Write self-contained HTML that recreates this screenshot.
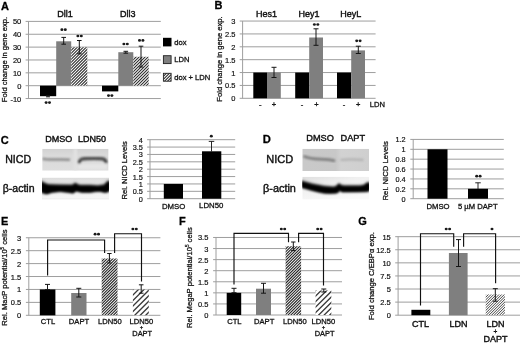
<!DOCTYPE html>
<html><head><meta charset="utf-8"><title>Figure</title>
<style>
html,body{margin:0;padding:0;background:#fff;}
body{width:520px;height:344px;overflow:hidden;font-family:"Liberation Sans",sans-serif;}
svg{display:block;will-change:transform;}
</style></head><body>
<svg width="520" height="344" viewBox="0 0 520 344" font-family='"Liberation Sans", sans-serif'>
<defs>
<pattern id="h1" width="2.0" height="2.0" patternUnits="userSpaceOnUse" patternTransform="rotate(-45)">
<rect width="2" height="2" fill="#fff"/><rect y="0" width="2" height="1.0" fill="#2a2a2a"/></pattern>
<pattern id="h2" width="1.55" height="1.55" patternUnits="userSpaceOnUse" patternTransform="rotate(-45)">
<rect width="1.55" height="1.55" fill="#fff"/><rect y="0" width="1.55" height="0.75" fill="#333"/></pattern>
<pattern id="h3" width="3.2" height="3.2" patternUnits="userSpaceOnUse" patternTransform="rotate(-45)">
<rect width="3.2" height="3.2" fill="#fff"/><rect y="0" width="3.2" height="1.1" fill="#444"/></pattern>
<filter id="b1" x="-20%" y="-50%" width="140%" height="200%"><feGaussianBlur stdDeviation="1.1"/></filter>
<filter id="b2" x="-20%" y="-50%" width="140%" height="200%"><feGaussianBlur stdDeviation="0.85"/></filter>
<filter id="b3" x="-20%" y="-50%" width="140%" height="200%"><feGaussianBlur stdDeviation="1.5"/></filter>
<linearGradient id="g1" x1="0" y1="0" x2="0" y2="1"><stop offset="0" stop-color="#d2d2d2"/><stop offset="0.3" stop-color="#dadada"/><stop offset="1" stop-color="#dedede"/></linearGradient>
<linearGradient id="g2" x1="0" y1="0" x2="1" y2="0"><stop offset="0" stop-color="#c9c9c9"/><stop offset="0.5" stop-color="#c8c8c8"/><stop offset="0.58" stop-color="#d2d2d2"/><stop offset="1" stop-color="#cfcfcf"/></linearGradient>
<linearGradient id="g3" x1="0" y1="0" x2="0" y2="1"><stop offset="0" stop-color="#dcdcdc"/><stop offset="0.25" stop-color="#e6e6e6"/><stop offset="0.7" stop-color="#f2f2f2"/><stop offset="0.93" stop-color="#f4f4f4"/><stop offset="1" stop-color="#e2e2e2"/></linearGradient>
<linearGradient id="g4" x1="0" y1="0" x2="0.6" y2="1"><stop offset="0" stop-color="#dedede"/><stop offset="0.4" stop-color="#f0f0f0"/><stop offset="1" stop-color="#fafafa"/></linearGradient>
<clipPath id="cpC1"><rect x="42.2" y="148.8" width="66.4" height="21.9"/></clipPath>
<clipPath id="cpC2"><rect x="42" y="177.6" width="67" height="22"/></clipPath>
<clipPath id="cpD1"><rect x="302.3" y="148.8" width="66.7" height="22.2"/></clipPath>
<clipPath id="cpD2"><rect x="302.3" y="176.7" width="66.7" height="22.9"/></clipPath>
<filter id="hb" x="-5%" y="-5%" width="110%" height="110%"><feGaussianBlur stdDeviation="0.7"/></filter>
</defs>
<rect width="520" height="344" fill="#fff"/>
<text x="0.9" y="9.7" font-size="11" text-anchor="start" font-weight="bold" fill="#000" stroke="#000" stroke-width="0.28" >A</text>
<line x1="25.6" y1="21.400000000000006" x2="160.8" y2="21.400000000000006" stroke="#9e9e9e" stroke-width="1"/>
<line x1="25.6" y1="34.260000000000005" x2="160.8" y2="34.260000000000005" stroke="#9e9e9e" stroke-width="1"/>
<line x1="25.6" y1="47.120000000000005" x2="160.8" y2="47.120000000000005" stroke="#9e9e9e" stroke-width="1"/>
<line x1="25.6" y1="59.980000000000004" x2="160.8" y2="59.980000000000004" stroke="#9e9e9e" stroke-width="1"/>
<line x1="25.6" y1="72.84" x2="160.8" y2="72.84" stroke="#9e9e9e" stroke-width="1"/>
<line x1="25.6" y1="85.7" x2="160.8" y2="85.7" stroke="#9e9e9e" stroke-width="1"/>
<line x1="25.6" y1="98.56" x2="160.8" y2="98.56" stroke="#9e9e9e" stroke-width="1"/>
<line x1="28.5" y1="21.400000000000006" x2="28.5" y2="98.56" stroke="#9e9e9e" stroke-width="1"/>
<text x="21.3" y="24.400000000000006" font-size="7.5" text-anchor="end" font-weight="normal" fill="#111" stroke="#111" stroke-width="0.18" >50</text>
<text x="21.3" y="37.260000000000005" font-size="7.5" text-anchor="end" font-weight="normal" fill="#111" stroke="#111" stroke-width="0.18" >40</text>
<text x="21.3" y="50.120000000000005" font-size="7.5" text-anchor="end" font-weight="normal" fill="#111" stroke="#111" stroke-width="0.18" >30</text>
<text x="21.3" y="62.980000000000004" font-size="7.5" text-anchor="end" font-weight="normal" fill="#111" stroke="#111" stroke-width="0.18" >20</text>
<text x="21.3" y="75.84" font-size="7.5" text-anchor="end" font-weight="normal" fill="#111" stroke="#111" stroke-width="0.18" >10</text>
<text x="21.3" y="88.7" font-size="7.5" text-anchor="end" font-weight="normal" fill="#111" stroke="#111" stroke-width="0.18" >0</text>
<text x="21.3" y="101.56" font-size="7.5" text-anchor="end" font-weight="normal" fill="#111" stroke="#111" stroke-width="0.18" >-10</text>
<text transform="translate(7.2,59.5) rotate(-90)" font-size="7.6" text-anchor="middle" fill="#111" stroke="#111" stroke-width="0.28">Fold change in gene exp.</text>
<text x="65" y="17.2" font-size="9" text-anchor="middle" font-weight="normal" fill="#111" stroke="#111" stroke-width="0.4" >Dll1</text>
<text x="127.8" y="17.2" font-size="9" text-anchor="middle" font-weight="normal" fill="#111" stroke="#111" stroke-width="0.4" >Dll3</text>
<rect x="40" y="85.7" width="16.20" height="10.50" fill="#000"/>
<rect x="56.2" y="41.3" width="15.00" height="44.40" fill="#7f7f7f"/>
<clipPath id="hc1"><rect x="71.2" y="47.3" width="16.10" height="38.40"/></clipPath>
<rect x="71.2" y="47.3" width="16.10" height="38.40" fill="#fff"/>
<g clip-path="url(#hc1)"><path d="M70.20,48.30L88.30,30.20M70.20,51.30L88.30,33.20M70.20,54.30L88.30,36.20M70.20,57.30L88.30,39.20M70.20,60.30L88.30,42.20M70.20,63.30L88.30,45.20M70.20,66.30L88.30,48.20M70.20,69.30L88.30,51.20M70.20,72.30L88.30,54.20M70.20,75.30L88.30,57.20M70.20,78.30L88.30,60.20M70.20,81.30L88.30,63.20M70.20,84.30L88.30,66.20M70.20,87.30L88.30,69.20M70.20,90.30L88.30,72.20M70.20,93.30L88.30,75.20M70.20,96.30L88.30,78.20M70.20,99.30L88.30,81.20M70.20,102.30L88.30,84.20M70.20,105.30L88.30,87.20" stroke="#2a2a2a" stroke-width="1.05" fill="none"/></g>
<path d="M63.7,37.4V44.2M61.400000000000006,37.4H66.0M61.400000000000006,44.2H66.0" stroke="#151515" stroke-width="1.0" fill="none"/>
<path d="M79.3,40.5V53.8M77.0,40.5H81.6M77.0,53.8H81.6" stroke="#151515" stroke-width="1.0" fill="none"/>
<path d="M48,95.6V96.8M46.0,95.6H50.0M46.0,96.8H50.0" stroke="#151515" stroke-width="1.0" fill="none"/>
<ellipse cx="61.9" cy="29.7" rx="1.5" ry="1.35" fill="#1a1a1a"/>
<ellipse cx="65.3" cy="29.7" rx="1.5" ry="1.35" fill="#1a1a1a"/>
<ellipse cx="77.89999999999999" cy="36" rx="1.5" ry="1.35" fill="#1a1a1a"/>
<ellipse cx="81.3" cy="36" rx="1.5" ry="1.35" fill="#1a1a1a"/>
<ellipse cx="46.099999999999994" cy="102.6" rx="1.5" ry="1.35" fill="#1a1a1a"/>
<ellipse cx="49.5" cy="102.6" rx="1.5" ry="1.35" fill="#1a1a1a"/>
<rect x="102" y="85.7" width="16.30" height="5.70" fill="#000"/>
<rect x="118.3" y="52.2" width="15.00" height="33.50" fill="#7f7f7f"/>
<clipPath id="hc2"><rect x="133.3" y="56.8" width="15.40" height="28.90"/></clipPath>
<rect x="133.3" y="56.8" width="15.40" height="28.90" fill="#fff"/>
<g clip-path="url(#hc2)"><path d="M132.30,57.80L149.70,40.40M132.30,60.80L149.70,43.40M132.30,63.80L149.70,46.40M132.30,66.80L149.70,49.40M132.30,69.80L149.70,52.40M132.30,72.80L149.70,55.40M132.30,75.80L149.70,58.40M132.30,78.80L149.70,61.40M132.30,81.80L149.70,64.40M132.30,84.80L149.70,67.40M132.30,87.80L149.70,70.40M132.30,90.80L149.70,73.40M132.30,93.80L149.70,76.40M132.30,96.80L149.70,79.40M132.30,99.80L149.70,82.40M132.30,102.80L149.70,85.40" stroke="#2a2a2a" stroke-width="1.05" fill="none"/></g>
<path d="M125.8,51.3V53.2M123.5,51.3H128.1M123.5,53.2H128.1" stroke="#151515" stroke-width="1.0" fill="none"/>
<path d="M141,46.2V67M138.7,46.2H143.3M138.7,67H143.3" stroke="#151515" stroke-width="1.0" fill="none"/>
<ellipse cx="123.89999999999999" cy="44" rx="1.5" ry="1.35" fill="#1a1a1a"/>
<ellipse cx="127.3" cy="44" rx="1.5" ry="1.35" fill="#1a1a1a"/>
<ellipse cx="139.5" cy="40.4" rx="1.5" ry="1.35" fill="#1a1a1a"/>
<ellipse cx="142.89999999999998" cy="40.4" rx="1.5" ry="1.35" fill="#1a1a1a"/>
<ellipse cx="108.5" cy="95.6" rx="1.5" ry="1.35" fill="#1a1a1a"/>
<ellipse cx="111.9" cy="95.6" rx="1.5" ry="1.35" fill="#1a1a1a"/>
<rect x="163.0" y="37.8" width="8.50" height="8.60" fill="#000"/>
<rect x="163.4" y="55.7" width="7.7" height="7.9" fill="#7f7f7f" stroke="#222" stroke-width="0.9"/>
<clipPath id="hc3"><rect x="163.4" y="73.3" width="7.70" height="7.90"/></clipPath>
<rect x="163.4" y="73.3" width="7.70" height="7.90" fill="#fff"/>
<g clip-path="url(#hc3)"><path d="M162.40,74.30L172.10,64.60M162.40,77.30L172.10,67.60M162.40,80.30L172.10,70.60M162.40,83.30L172.10,73.60M162.40,86.30L172.10,76.60M162.40,89.30L172.10,79.60M162.40,92.30L172.10,82.60" stroke="#2a2a2a" stroke-width="1.05" fill="none"/></g>
<rect x="163.4" y="73.3" width="7.7" height="7.9" fill="none" stroke="#222" stroke-width="0.9"/>
<text x="174.2" y="44.5" font-size="7.6" text-anchor="start" font-weight="normal" fill="#111" stroke="#111" stroke-width="0.3" >dox</text>
<text x="174.2" y="61.9" font-size="7.6" text-anchor="start" font-weight="normal" fill="#111" stroke="#111" stroke-width="0.3" >LDN</text>
<text x="174.2" y="80.1" font-size="7.6" text-anchor="start" font-weight="normal" fill="#111" stroke="#111" stroke-width="0.3" >dox + LDN</text>
<text x="214.5" y="9.3" font-size="11" text-anchor="start" font-weight="bold" fill="#000" stroke="#000" stroke-width="0.28" >B</text>
<line x1="239.7" y1="21.049999999999997" x2="375.6" y2="21.049999999999997" stroke="#9e9e9e" stroke-width="1"/>
<line x1="239.7" y1="33.925" x2="375.6" y2="33.925" stroke="#9e9e9e" stroke-width="1"/>
<line x1="239.7" y1="46.8" x2="375.6" y2="46.8" stroke="#9e9e9e" stroke-width="1"/>
<line x1="239.7" y1="59.675" x2="375.6" y2="59.675" stroke="#9e9e9e" stroke-width="1"/>
<line x1="239.7" y1="72.55" x2="375.6" y2="72.55" stroke="#9e9e9e" stroke-width="1"/>
<line x1="239.7" y1="85.425" x2="375.6" y2="85.425" stroke="#9e9e9e" stroke-width="1"/>
<line x1="239.7" y1="98.3" x2="375.6" y2="98.3" stroke="#9e9e9e" stroke-width="1"/>
<line x1="242.6" y1="21.049999999999997" x2="242.6" y2="98.3" stroke="#9e9e9e" stroke-width="1"/>
<text x="235.5" y="24.049999999999997" font-size="7.5" text-anchor="end" font-weight="normal" fill="#111" stroke="#111" stroke-width="0.18" >3</text>
<text x="235.5" y="36.925" font-size="7.5" text-anchor="end" font-weight="normal" fill="#111" stroke="#111" stroke-width="0.18" >2.5</text>
<text x="235.5" y="49.8" font-size="7.5" text-anchor="end" font-weight="normal" fill="#111" stroke="#111" stroke-width="0.18" >2</text>
<text x="235.5" y="62.675" font-size="7.5" text-anchor="end" font-weight="normal" fill="#111" stroke="#111" stroke-width="0.18" >1.5</text>
<text x="235.5" y="75.55" font-size="7.5" text-anchor="end" font-weight="normal" fill="#111" stroke="#111" stroke-width="0.18" >1</text>
<text x="235.5" y="88.425" font-size="7.5" text-anchor="end" font-weight="normal" fill="#111" stroke="#111" stroke-width="0.18" >0.5</text>
<text x="235.5" y="101.3" font-size="7.5" text-anchor="end" font-weight="normal" fill="#111" stroke="#111" stroke-width="0.18" >0</text>
<text transform="translate(221.8,59) rotate(-90)" font-size="7.6" text-anchor="middle" fill="#111" stroke="#111" stroke-width="0.28">Fold change in gene exp.</text>
<text x="266.6" y="17" font-size="9" text-anchor="middle" font-weight="normal" fill="#111" stroke="#111" stroke-width="0.4" >Hes1</text>
<text x="309" y="17" font-size="9" text-anchor="middle" font-weight="normal" fill="#111" stroke="#111" stroke-width="0.4" >Hey1</text>
<text x="350.7" y="17" font-size="9" text-anchor="middle" font-weight="normal" fill="#111" stroke="#111" stroke-width="0.4" >HeyL</text>
<rect x="253.3" y="72.55" width="13.70" height="25.75" fill="#000"/>
<rect x="267" y="72.55" width="13.80" height="25.75" fill="#7f7f7f"/>
<path d="M274,67.3V77.5M271.5,67.3H276.5M271.5,77.5H276.5" stroke="#151515" stroke-width="1.0" fill="none"/>
<rect x="295.2" y="72.55" width="14.00" height="25.75" fill="#000"/>
<rect x="309.2" y="37.5" width="13.80" height="60.80" fill="#7f7f7f"/>
<path d="M316,28.8V45.3M313.5,28.8H318.5M313.5,45.3H318.5" stroke="#151515" stroke-width="1.0" fill="none"/>
<ellipse cx="314.40000000000003" cy="24.5" rx="1.5" ry="1.35" fill="#1a1a1a"/>
<ellipse cx="317.8" cy="24.5" rx="1.5" ry="1.35" fill="#1a1a1a"/>
<rect x="337" y="72.55" width="14.20" height="25.75" fill="#000"/>
<rect x="351.2" y="50.4" width="13.80" height="47.90" fill="#7f7f7f"/>
<path d="M358.3,46.2V53.5M355.8,46.2H360.8M355.8,53.5H360.8" stroke="#151515" stroke-width="1.0" fill="none"/>
<ellipse cx="356.7" cy="40.8" rx="1.5" ry="1.35" fill="#1a1a1a"/>
<ellipse cx="360.09999999999997" cy="40.8" rx="1.5" ry="1.35" fill="#1a1a1a"/>
<text x="260.2" y="106.5" font-size="7.5" text-anchor="middle" font-weight="normal" fill="#111" stroke="#111" stroke-width="0.3" >-</text>
<text x="274" y="107.45" font-size="7.5" text-anchor="middle" font-weight="normal" fill="#111" stroke="#111" stroke-width="0.3" >+</text>
<text x="302" y="106.5" font-size="7.5" text-anchor="middle" font-weight="normal" fill="#111" stroke="#111" stroke-width="0.3" >-</text>
<text x="316.5" y="107.45" font-size="7.5" text-anchor="middle" font-weight="normal" fill="#111" stroke="#111" stroke-width="0.3" >+</text>
<text x="344" y="106.5" font-size="7.5" text-anchor="middle" font-weight="normal" fill="#111" stroke="#111" stroke-width="0.3" >-</text>
<text x="358.3" y="107.45" font-size="7.5" text-anchor="middle" font-weight="normal" fill="#111" stroke="#111" stroke-width="0.3" >+</text>
<text x="369.8" y="107.2" font-size="7.6" text-anchor="start" font-weight="normal" fill="#111" stroke="#111" stroke-width="0.3" >LDN</text>
<text x="0.8" y="143.5" font-size="11" text-anchor="start" font-weight="bold" fill="#000" stroke="#000" stroke-width="0.28" >C</text>
<text x="45.2" y="142.4" font-size="9" text-anchor="start" font-weight="normal" fill="#111" stroke="#111" stroke-width="0.4" >DMSO</text>
<text x="78" y="142.4" font-size="9" text-anchor="start" font-weight="normal" fill="#111" stroke="#111" stroke-width="0.4" >LDN50</text>
<text x="5.2" y="163.2" font-size="10.6" text-anchor="start" font-weight="normal" fill="#111" stroke="#111" stroke-width="0.4" >NICD</text>
<text x="2.8" y="191.6" font-size="10.5" text-anchor="start" font-weight="normal" fill="#111" stroke="#111" stroke-width="0.4" >β-actin</text>
<g clip-path="url(#cpC1)">
<rect x="42.2" y="148.8" width="66.4" height="21.9" fill="url(#g1)"/>
<rect x="73.5" y="148.8" width="3.6" height="21.9" fill="#e2e2e2" filter="url(#b1)"/>
<g filter="url(#b1)">
<path d="M78,166.5 H107" stroke="#e6e6e6" stroke-width="5" fill="none"/>
<path d="M42.5,158.6 C45,159.6 52,159.6 58,159.5 C63,159.4 67,159.5 70,159.8" stroke="#8c8c8c" stroke-width="2.4" fill="none"/>
<path d="M79.4,162.4 C79.6,159.6 81,158.6 86,158.6 C92,158.5 99,158.5 101,158.7 C104.6,158.8 105.6,159.8 106,162" stroke="#444" stroke-width="3.2" fill="none" stroke-linecap="round"/>
</g></g>
<g clip-path="url(#cpC2)">
<rect x="42" y="177.6" width="67" height="22" fill="url(#g3)"/>
<path d="M41,181.6 L44,183.4 L48,185 L60,185.4 L72,185.6 L74.5,184.2 L75.5,183.2 L76.5,184.5 L80,185.8 L90,185.8 L98,186.2 L104,185.4 L106.5,183 L108,181.6 L110,181.8 L110,190 L108,192 L105,192.6 L100,191.4 L96,191.6 L90,192.4 L82,192.4 L78,191.6 L76,191 L75,192 L73,193.2 L68,192.4 L60,191.6 L52,192.4 L47,194 L44,193.6 L41,192Z" fill="#777" filter="url(#b3)" transform="translate(0,-1.3)"/>
<path d="M41,181.6 L44,183.4 L48,185 L60,185.4 L72,185.6 L74.5,184.2 L75.5,183.2 L76.5,184.5 L80,185.8 L90,185.8 L98,186.2 L104,185.4 L106.5,183 L108,181.6 L110,181.8 L110,190 L108,192 L105,192.6 L100,191.4 L96,191.6 L90,192.4 L82,192.4 L78,191.6 L76,191 L75,192 L73,193.2 L68,192.4 L60,191.6 L52,192.4 L47,194 L44,193.6 L41,192Z" fill="#050505" stroke="#050505" stroke-width="0.6" stroke-linejoin="round" filter="url(#b2)"/>
</g>
<line x1="147.1" y1="139.7" x2="235.2" y2="139.7" stroke="#9e9e9e" stroke-width="1"/>
<line x1="147.1" y1="147.075" x2="235.2" y2="147.075" stroke="#9e9e9e" stroke-width="1"/>
<line x1="147.1" y1="154.45" x2="235.2" y2="154.45" stroke="#9e9e9e" stroke-width="1"/>
<line x1="147.1" y1="161.825" x2="235.2" y2="161.825" stroke="#9e9e9e" stroke-width="1"/>
<line x1="147.1" y1="169.2" x2="235.2" y2="169.2" stroke="#9e9e9e" stroke-width="1"/>
<line x1="147.1" y1="176.575" x2="235.2" y2="176.575" stroke="#9e9e9e" stroke-width="1"/>
<line x1="147.1" y1="183.95" x2="235.2" y2="183.95" stroke="#9e9e9e" stroke-width="1"/>
<line x1="147.1" y1="191.325" x2="235.2" y2="191.325" stroke="#9e9e9e" stroke-width="1"/>
<line x1="147.1" y1="198.7" x2="235.2" y2="198.7" stroke="#9e9e9e" stroke-width="1"/>
<line x1="150" y1="139.7" x2="150" y2="198.7" stroke="#9e9e9e" stroke-width="1"/>
<text x="142.8" y="142.7" font-size="7.3" text-anchor="end" font-weight="normal" fill="#111" stroke="#111" stroke-width="0.18" >4</text>
<text x="142.8" y="150.075" font-size="7.3" text-anchor="end" font-weight="normal" fill="#111" stroke="#111" stroke-width="0.18" >3.5</text>
<text x="142.8" y="157.45" font-size="7.3" text-anchor="end" font-weight="normal" fill="#111" stroke="#111" stroke-width="0.18" >3</text>
<text x="142.8" y="164.825" font-size="7.3" text-anchor="end" font-weight="normal" fill="#111" stroke="#111" stroke-width="0.18" >2.5</text>
<text x="142.8" y="172.2" font-size="7.3" text-anchor="end" font-weight="normal" fill="#111" stroke="#111" stroke-width="0.18" >2</text>
<text x="142.8" y="179.575" font-size="7.3" text-anchor="end" font-weight="normal" fill="#111" stroke="#111" stroke-width="0.18" >1.5</text>
<text x="142.8" y="186.95" font-size="7.3" text-anchor="end" font-weight="normal" fill="#111" stroke="#111" stroke-width="0.18" >1</text>
<text x="142.8" y="194.325" font-size="7.3" text-anchor="end" font-weight="normal" fill="#111" stroke="#111" stroke-width="0.18" >0.5</text>
<text x="142.8" y="201.7" font-size="7.3" text-anchor="end" font-weight="normal" fill="#111" stroke="#111" stroke-width="0.18" >0</text>
<text transform="translate(126.9,170.4) rotate(-90)" font-size="7.6" text-anchor="middle" fill="#111" stroke="#111" stroke-width="0.28">Rel. NICD Levels</text>
<rect x="163.8" y="183.95" width="19.20" height="14.75" fill="#000"/>
<rect x="202" y="151.3" width="19.30" height="47.40" fill="#000"/>
<path d="M211.5,141.4V151.5M208.75,141.4H214.25" stroke="#111" stroke-width="0.9" fill="none"/>
<ellipse cx="211.3" cy="136.2" rx="1.5" ry="1.35" fill="#1a1a1a"/>
<text x="173.6" y="208.5" font-size="7.8" text-anchor="middle" font-weight="normal" fill="#111" stroke="#111" stroke-width="0.3" >DMSO</text>
<text x="211.2" y="208.3" font-size="7.8" text-anchor="middle" font-weight="normal" fill="#111" stroke="#111" stroke-width="0.3" >LDN50</text>
<text x="262.8" y="143.2" font-size="11.2" text-anchor="start" font-weight="bold" fill="#000" stroke="#000" stroke-width="0.28" >D</text>
<text x="306.3" y="141.2" font-size="9.2" text-anchor="start" font-weight="normal" fill="#111" stroke="#111" stroke-width="0.4" >DMSO</text>
<text x="340.5" y="141.2" font-size="9.2" text-anchor="start" font-weight="normal" fill="#111" stroke="#111" stroke-width="0.4" >DAPT</text>
<text x="266.2" y="163.2" font-size="11" text-anchor="start" font-weight="normal" fill="#111" stroke="#111" stroke-width="0.4" >NICD</text>
<text x="263" y="191.5" font-size="10.9" text-anchor="start" font-weight="normal" fill="#111" stroke="#111" stroke-width="0.4" >β-actin</text>
<g clip-path="url(#cpD1)">
<rect x="302.3" y="148.8" width="66.7" height="22.2" fill="url(#g2)"/>
<g filter="url(#b1)">
<path d="M304.5,156.6 C308,158.2 314,159 320,159.2 C326,159.4 331,159.8 334,160.6" stroke="#7e7e7e" stroke-width="2.8" fill="none" stroke-linecap="round"/>
<path d="M340.5,159.8 C348,159.2 356,159.3 363.5,159.8" stroke="#b2b2b2" stroke-width="2.2" fill="none"/>
</g></g>
<g clip-path="url(#cpD2)">
<rect x="302.3" y="176.7" width="66.7" height="22.9" fill="url(#g4)"/>
<path d="M301,181.2 L303.3,181.9 L312.2,184.4 L324.4,186.8 L334,187.5 L337,186.2 L338.6,184.2 L339.4,183.9 L340.4,185.6 L344,186.3 L352,186.3 L360,186.3 L364,185.6 L366.5,183.6 L368.4,183 L370,183.2 L370,190 L368,191.6 L364,191.8 L356,191.9 L348,192 L342,192 L340.4,191 L339.4,190.2 L338.6,192.2 L336,193.2 L330,193.5 L324.4,193.3 L318,192 L312.2,190.6 L306,188.8 L303.3,188.1 L301,187.6Z" fill="#777" filter="url(#b3)" transform="translate(0,-1.2)"/>
<path d="M301,181.2 L303.3,181.9 L312.2,184.4 L324.4,186.8 L334,187.5 L337,186.2 L338.6,184.2 L339.4,183.9 L340.4,185.6 L344,186.3 L352,186.3 L360,186.3 L364,185.6 L366.5,183.6 L368.4,183 L370,183.2 L370,190 L368,191.6 L364,191.8 L356,191.9 L348,192 L342,192 L340.4,191 L339.4,190.2 L338.6,192.2 L336,193.2 L330,193.5 L324.4,193.3 L318,192 L312.2,190.6 L306,188.8 L303.3,188.1 L301,187.6Z" fill="#050505" stroke="#050505" stroke-width="0.6" stroke-linejoin="round" filter="url(#b2)"/>
</g>
<line x1="410.3" y1="139.42" x2="503.8" y2="139.42" stroke="#9e9e9e" stroke-width="1"/>
<line x1="410.3" y1="149.29999999999998" x2="503.8" y2="149.29999999999998" stroke="#9e9e9e" stroke-width="1"/>
<line x1="410.3" y1="159.17999999999998" x2="503.8" y2="159.17999999999998" stroke="#9e9e9e" stroke-width="1"/>
<line x1="410.3" y1="169.06" x2="503.8" y2="169.06" stroke="#9e9e9e" stroke-width="1"/>
<line x1="410.3" y1="178.94" x2="503.8" y2="178.94" stroke="#9e9e9e" stroke-width="1"/>
<line x1="410.3" y1="188.82" x2="503.8" y2="188.82" stroke="#9e9e9e" stroke-width="1"/>
<line x1="410.3" y1="198.7" x2="503.8" y2="198.7" stroke="#9e9e9e" stroke-width="1"/>
<line x1="413.2" y1="139.42" x2="413.2" y2="198.7" stroke="#9e9e9e" stroke-width="1"/>
<text x="405.6" y="142.42" font-size="7.3" text-anchor="end" font-weight="normal" fill="#111" stroke="#111" stroke-width="0.18" >1.2</text>
<text x="405.6" y="152.29999999999998" font-size="7.3" text-anchor="end" font-weight="normal" fill="#111" stroke="#111" stroke-width="0.18" >1</text>
<text x="405.6" y="162.17999999999998" font-size="7.3" text-anchor="end" font-weight="normal" fill="#111" stroke="#111" stroke-width="0.18" >0.8</text>
<text x="405.6" y="172.06" font-size="7.3" text-anchor="end" font-weight="normal" fill="#111" stroke="#111" stroke-width="0.18" >0.6</text>
<text x="405.6" y="181.94" font-size="7.3" text-anchor="end" font-weight="normal" fill="#111" stroke="#111" stroke-width="0.18" >0.4</text>
<text x="405.6" y="191.82" font-size="7.3" text-anchor="end" font-weight="normal" fill="#111" stroke="#111" stroke-width="0.18" >0.2</text>
<text x="405.6" y="201.7" font-size="7.3" text-anchor="end" font-weight="normal" fill="#111" stroke="#111" stroke-width="0.18" >0</text>
<text transform="translate(388.2,170.8) rotate(-90)" font-size="7.75" text-anchor="middle" fill="#111" stroke="#111" stroke-width="0.28">Rel. NICD Levels</text>
<rect x="427.5" y="149.29999999999998" width="20.00" height="49.40" fill="#000"/>
<rect x="468" y="188.8" width="20.00" height="9.90" fill="#000"/>
<path d="M478,182.8V189M475.25,182.8H480.75" stroke="#111" stroke-width="0.9" fill="none"/>
<ellipse cx="476.7" cy="176.2" rx="1.5" ry="1.35" fill="#1a1a1a"/>
<ellipse cx="480.09999999999997" cy="176.2" rx="1.5" ry="1.35" fill="#1a1a1a"/>
<text x="438" y="209.1" font-size="7.7" text-anchor="middle" font-weight="normal" fill="#111" stroke="#111" stroke-width="0.3" >DMSO</text>
<text x="477.8" y="209.1" font-size="7.65" text-anchor="middle" font-weight="normal" fill="#111" stroke="#111" stroke-width="0.3" >5 µM DAPT</text>
<text x="0.9" y="224.9" font-size="11" text-anchor="start" font-weight="bold" fill="#000" stroke="#000" stroke-width="0.28" >E</text>
<line x1="25.900000000000002" y1="237.75" x2="160.4" y2="237.75" stroke="#9e9e9e" stroke-width="1"/>
<line x1="25.900000000000002" y1="250.675" x2="160.4" y2="250.675" stroke="#9e9e9e" stroke-width="1"/>
<line x1="25.900000000000002" y1="263.6" x2="160.4" y2="263.6" stroke="#9e9e9e" stroke-width="1"/>
<line x1="25.900000000000002" y1="276.525" x2="160.4" y2="276.525" stroke="#9e9e9e" stroke-width="1"/>
<line x1="25.900000000000002" y1="289.45" x2="160.4" y2="289.45" stroke="#9e9e9e" stroke-width="1"/>
<line x1="25.900000000000002" y1="302.375" x2="160.4" y2="302.375" stroke="#9e9e9e" stroke-width="1"/>
<line x1="25.900000000000002" y1="315.3" x2="160.4" y2="315.3" stroke="#9e9e9e" stroke-width="1"/>
<line x1="28.8" y1="237.75" x2="28.8" y2="315.3" stroke="#9e9e9e" stroke-width="1"/>
<text x="21.2" y="240.75" font-size="7.5" text-anchor="end" font-weight="normal" fill="#111" stroke="#111" stroke-width="0.18" >3</text>
<text x="21.2" y="253.675" font-size="7.5" text-anchor="end" font-weight="normal" fill="#111" stroke="#111" stroke-width="0.18" >2.5</text>
<text x="21.2" y="266.6" font-size="7.5" text-anchor="end" font-weight="normal" fill="#111" stroke="#111" stroke-width="0.18" >2</text>
<text x="21.2" y="279.525" font-size="7.5" text-anchor="end" font-weight="normal" fill="#111" stroke="#111" stroke-width="0.18" >1.5</text>
<text x="21.2" y="292.45" font-size="7.5" text-anchor="end" font-weight="normal" fill="#111" stroke="#111" stroke-width="0.18" >1</text>
<text x="21.2" y="305.375" font-size="7.5" text-anchor="end" font-weight="normal" fill="#111" stroke="#111" stroke-width="0.18" >0.5</text>
<text x="21.2" y="318.3" font-size="7.5" text-anchor="end" font-weight="normal" fill="#111" stroke="#111" stroke-width="0.18" >0</text>
<text transform="translate(6.5,277.6) rotate(-90)" font-size="7.6" text-anchor="middle" fill="#111" stroke="#111" stroke-width="0.28">Rel. MacP potential/10<tspan font-size="4.6" dy="-2.6">5</tspan><tspan dy="2.6"> cells</tspan></text>
<rect x="39.8" y="289.45" width="15.60" height="25.85" fill="#000"/>
<path d="M47.5,284.4V289.6M45.0,284.4H50.0M45.0,289.6H50.0" stroke="#151515" stroke-width="1.0" fill="none"/>
<rect x="71.2" y="293" width="15.30" height="22.30" fill="#7f7f7f"/>
<path d="M78.8,288.3V297M76.3,288.3H81.3M76.3,297H81.3" stroke="#151515" stroke-width="1.0" fill="none"/>
<clipPath id="hc4"><rect x="101.7" y="258.5" width="15.80" height="56.80"/></clipPath>
<rect x="101.7" y="258.5" width="15.80" height="56.80" fill="#fff"/>
<g clip-path="url(#hc4)"><path d="M100.70,259.50L118.50,241.70M100.70,262.35L118.50,244.55M100.70,265.20L118.50,247.40M100.70,268.05L118.50,250.25M100.70,270.90L118.50,253.10M100.70,273.75L118.50,255.95M100.70,276.60L118.50,258.80M100.70,279.45L118.50,261.65M100.70,282.30L118.50,264.50M100.70,285.15L118.50,267.35M100.70,288.00L118.50,270.20M100.70,290.85L118.50,273.05M100.70,293.70L118.50,275.90M100.70,296.55L118.50,278.75M100.70,299.40L118.50,281.60M100.70,302.25L118.50,284.45M100.70,305.10L118.50,287.30M100.70,307.95L118.50,290.15M100.70,310.80L118.50,293.00M100.70,313.65L118.50,295.85M100.70,316.50L118.50,298.70M100.70,319.35L118.50,301.55M100.70,322.20L118.50,304.40M100.70,325.05L118.50,307.25M100.70,327.90L118.50,310.10M100.70,330.75L118.50,312.95M100.70,333.60L118.50,315.80" stroke="#262626" stroke-width="1.1" fill="none"/></g>
<path d="M109.4,253.5V263M107.2,253.5H111.60000000000001M107.2,263H111.60000000000001" stroke="#151515" stroke-width="1.0" fill="none"/>
<clipPath id="hc5"><rect x="132.9" y="289.6" width="15.90" height="25.70"/></clipPath>
<rect x="132.9" y="289.6" width="15.90" height="25.70" fill="#fff"/>
<g clip-path="url(#hc5)"><path d="M131.90,290.60L149.80,272.70M131.90,296.10L149.80,278.20M131.90,301.60L149.80,283.70M131.90,307.10L149.80,289.20M131.90,312.60L149.80,294.70M131.90,318.10L149.80,300.20M131.90,323.60L149.80,305.70M131.90,329.10L149.80,311.20M131.90,334.60L149.80,316.70" stroke="#3a3a3a" stroke-width="1.35" fill="none"/></g>
<path d="M141.2,284.8V293.2M138.89999999999998,284.8H143.5M138.89999999999998,293.2H143.5" stroke="#151515" stroke-width="1.0" fill="none"/>
<path d="M47.6,275.6V240H104.6V253" stroke="#111" stroke-width="1.15" fill="none"/>
<path d="M114.6,253V233.7H141.5V281.4" stroke="#111" stroke-width="1.15" fill="none"/>
<ellipse cx="95.1" cy="234.2" rx="1.5" ry="1.35" fill="#1a1a1a"/>
<ellipse cx="98.5" cy="234.2" rx="1.5" ry="1.35" fill="#1a1a1a"/>
<ellipse cx="132.9" cy="229" rx="1.5" ry="1.35" fill="#1a1a1a"/>
<ellipse cx="136.29999999999998" cy="229" rx="1.5" ry="1.35" fill="#1a1a1a"/>
<text x="48" y="323.5" font-size="7.6" text-anchor="middle" font-weight="normal" fill="#111" stroke="#111" stroke-width="0.3" >CTL</text>
<text x="79" y="323.5" font-size="7.6" text-anchor="middle" font-weight="normal" fill="#111" stroke="#111" stroke-width="0.3" >DAPT</text>
<text x="109.8" y="323.5" font-size="7.6" text-anchor="middle" font-weight="normal" fill="#111" stroke="#111" stroke-width="0.3" >LDN50</text>
<text x="141.3" y="323.5" font-size="7.6" text-anchor="middle" font-weight="normal" fill="#111" stroke="#111" stroke-width="0.3" >LDN50</text>
<text x="141.5" y="329.1" font-size="6" text-anchor="middle" font-weight="normal" fill="#111" stroke="#111" stroke-width="0.3" >+</text>
<text x="142.2" y="335.9" font-size="7.4" text-anchor="middle" font-weight="normal" fill="#111" stroke="#111" stroke-width="0.3" >DAPT</text>
<text x="178.9" y="224.6" font-size="11" text-anchor="start" font-weight="bold" fill="#000" stroke="#000" stroke-width="0.28" >F</text>
<line x1="213.1" y1="237.47500000000002" x2="342" y2="237.47500000000002" stroke="#9e9e9e" stroke-width="1"/>
<line x1="213.1" y1="248.55" x2="342" y2="248.55" stroke="#9e9e9e" stroke-width="1"/>
<line x1="213.1" y1="259.625" x2="342" y2="259.625" stroke="#9e9e9e" stroke-width="1"/>
<line x1="213.1" y1="270.7" x2="342" y2="270.7" stroke="#9e9e9e" stroke-width="1"/>
<line x1="213.1" y1="281.775" x2="342" y2="281.775" stroke="#9e9e9e" stroke-width="1"/>
<line x1="213.1" y1="292.85" x2="342" y2="292.85" stroke="#9e9e9e" stroke-width="1"/>
<line x1="213.1" y1="303.925" x2="342" y2="303.925" stroke="#9e9e9e" stroke-width="1"/>
<line x1="213.1" y1="315.0" x2="342" y2="315.0" stroke="#9e9e9e" stroke-width="1"/>
<line x1="216" y1="237.47500000000002" x2="216" y2="315.0" stroke="#9e9e9e" stroke-width="1"/>
<text x="208.4" y="240.47500000000002" font-size="7.5" text-anchor="end" font-weight="normal" fill="#111" stroke="#111" stroke-width="0.18" >3.5</text>
<text x="208.4" y="251.55" font-size="7.5" text-anchor="end" font-weight="normal" fill="#111" stroke="#111" stroke-width="0.18" >3</text>
<text x="208.4" y="262.625" font-size="7.5" text-anchor="end" font-weight="normal" fill="#111" stroke="#111" stroke-width="0.18" >2.5</text>
<text x="208.4" y="273.7" font-size="7.5" text-anchor="end" font-weight="normal" fill="#111" stroke="#111" stroke-width="0.18" >2</text>
<text x="208.4" y="284.775" font-size="7.5" text-anchor="end" font-weight="normal" fill="#111" stroke="#111" stroke-width="0.18" >1.5</text>
<text x="208.4" y="295.85" font-size="7.5" text-anchor="end" font-weight="normal" fill="#111" stroke="#111" stroke-width="0.18" >1</text>
<text x="208.4" y="306.925" font-size="7.5" text-anchor="end" font-weight="normal" fill="#111" stroke="#111" stroke-width="0.18" >0.5</text>
<text x="208.4" y="318.0" font-size="7.5" text-anchor="end" font-weight="normal" fill="#111" stroke="#111" stroke-width="0.18" >0</text>
<text transform="translate(191.8,277.6) rotate(-90)" font-size="7.6" text-anchor="middle" fill="#111" stroke="#111" stroke-width="0.28">Rel. MegaP potential/10<tspan font-size="4.6" dy="-2.6">5</tspan><tspan dy="2.6"> cells</tspan></text>
<rect x="226.7" y="292.85" width="14.50" height="22.15" fill="#000"/>
<path d="M234,288.3V292.7M231.5,288.3H236.5M231.5,292.7H236.5" stroke="#151515" stroke-width="1.0" fill="none"/>
<rect x="256" y="288.7" width="15.00" height="26.30" fill="#7f7f7f"/>
<path d="M263.5,283.3V293.2M261.0,283.3H266.0M261.0,293.2H266.0" stroke="#151515" stroke-width="1.0" fill="none"/>
<clipPath id="hc6"><rect x="285.6" y="246.2" width="15.50" height="68.80"/></clipPath>
<rect x="285.6" y="246.2" width="15.50" height="68.80" fill="#fff"/>
<g clip-path="url(#hc6)"><path d="M284.60,247.20L302.10,229.70M284.60,250.05L302.10,232.55M284.60,252.90L302.10,235.40M284.60,255.75L302.10,238.25M284.60,258.60L302.10,241.10M284.60,261.45L302.10,243.95M284.60,264.30L302.10,246.80M284.60,267.15L302.10,249.65M284.60,270.00L302.10,252.50M284.60,272.85L302.10,255.35M284.60,275.70L302.10,258.20M284.60,278.55L302.10,261.05M284.60,281.40L302.10,263.90M284.60,284.25L302.10,266.75M284.60,287.10L302.10,269.60M284.60,289.95L302.10,272.45M284.60,292.80L302.10,275.30M284.60,295.65L302.10,278.15M284.60,298.50L302.10,281.00M284.60,301.35L302.10,283.85M284.60,304.20L302.10,286.70M284.60,307.05L302.10,289.55M284.60,309.90L302.10,292.40M284.60,312.75L302.10,295.25M284.60,315.60L302.10,298.10M284.60,318.45L302.10,300.95M284.60,321.30L302.10,303.80M284.60,324.15L302.10,306.65M284.60,327.00L302.10,309.50M284.60,329.85L302.10,312.35M284.60,332.70L302.10,315.20" stroke="#262626" stroke-width="1.1" fill="none"/></g>
<path d="M293.3,242V250.6M291.1,242H295.5M291.1,250.6H295.5" stroke="#151515" stroke-width="1.0" fill="none"/>
<clipPath id="hc7"><rect x="315.6" y="290.6" width="15.70" height="24.40"/></clipPath>
<rect x="315.6" y="290.6" width="15.70" height="24.40" fill="#fff"/>
<g clip-path="url(#hc7)"><path d="M314.60,291.60L332.30,273.90M314.60,297.10L332.30,279.40M314.60,302.60L332.30,284.90M314.60,308.10L332.30,290.40M314.60,313.60L332.30,295.90M314.60,319.10L332.30,301.40M314.60,324.60L332.30,306.90M314.60,330.10L332.30,312.40M314.60,335.60L332.30,317.90" stroke="#3a3a3a" stroke-width="1.35" fill="none"/></g>
<path d="M323.8,289V292M321.3,289H326.3M321.3,292H326.3" stroke="#151515" stroke-width="1.0" fill="none"/>
<path d="M234,284.4V233.3H288.5V242.3" stroke="#111" stroke-width="1.15" fill="none"/>
<path d="M298.6,242.3V233.3H323.5V285.6" stroke="#111" stroke-width="1.15" fill="none"/>
<ellipse cx="281.3" cy="229" rx="1.5" ry="1.35" fill="#1a1a1a"/>
<ellipse cx="284.7" cy="229" rx="1.5" ry="1.35" fill="#1a1a1a"/>
<ellipse cx="317.7" cy="229" rx="1.5" ry="1.35" fill="#1a1a1a"/>
<ellipse cx="321.09999999999997" cy="229" rx="1.5" ry="1.35" fill="#1a1a1a"/>
<text x="234.4" y="323.5" font-size="7.6" text-anchor="middle" font-weight="normal" fill="#111" stroke="#111" stroke-width="0.3" >CTL</text>
<text x="264.2" y="323.5" font-size="7.6" text-anchor="middle" font-weight="normal" fill="#111" stroke="#111" stroke-width="0.3" >DAPT</text>
<text x="294.8" y="323.5" font-size="7.6" text-anchor="middle" font-weight="normal" fill="#111" stroke="#111" stroke-width="0.3" >LDN50</text>
<text x="323.4" y="323.5" font-size="7.6" text-anchor="middle" font-weight="normal" fill="#111" stroke="#111" stroke-width="0.3" >LDN50</text>
<text x="323.5" y="329.1" font-size="6" text-anchor="middle" font-weight="normal" fill="#111" stroke="#111" stroke-width="0.3" >+</text>
<text x="324.6" y="335.9" font-size="7.4" text-anchor="middle" font-weight="normal" fill="#111" stroke="#111" stroke-width="0.3" >DAPT</text>
<text x="358.2" y="224.9" font-size="11" text-anchor="start" font-weight="bold" fill="#000" stroke="#000" stroke-width="0.28" >G</text>
<line x1="395.20000000000005" y1="236.67499999999998" x2="520" y2="236.67499999999998" stroke="#9e9e9e" stroke-width="1"/>
<line x1="395.20000000000005" y1="249.7625" x2="520" y2="249.7625" stroke="#9e9e9e" stroke-width="1"/>
<line x1="395.20000000000005" y1="262.84999999999997" x2="520" y2="262.84999999999997" stroke="#9e9e9e" stroke-width="1"/>
<line x1="395.20000000000005" y1="275.9375" x2="520" y2="275.9375" stroke="#9e9e9e" stroke-width="1"/>
<line x1="395.20000000000005" y1="289.025" x2="520" y2="289.025" stroke="#9e9e9e" stroke-width="1"/>
<line x1="395.20000000000005" y1="302.1125" x2="520" y2="302.1125" stroke="#9e9e9e" stroke-width="1"/>
<line x1="395.20000000000005" y1="315.2" x2="520" y2="315.2" stroke="#9e9e9e" stroke-width="1"/>
<line x1="398.1" y1="236.67499999999998" x2="398.1" y2="315.2" stroke="#9e9e9e" stroke-width="1"/>
<text x="390.8" y="239.67499999999998" font-size="7.5" text-anchor="end" font-weight="normal" fill="#111" stroke="#111" stroke-width="0.18" >15</text>
<text x="390.8" y="252.7625" font-size="7.5" text-anchor="end" font-weight="normal" fill="#111" stroke="#111" stroke-width="0.18" >12.5</text>
<text x="390.8" y="265.84999999999997" font-size="7.5" text-anchor="end" font-weight="normal" fill="#111" stroke="#111" stroke-width="0.18" >10</text>
<text x="390.8" y="278.9375" font-size="7.5" text-anchor="end" font-weight="normal" fill="#111" stroke="#111" stroke-width="0.18" >7.5</text>
<text x="390.8" y="292.025" font-size="7.5" text-anchor="end" font-weight="normal" fill="#111" stroke="#111" stroke-width="0.18" >5</text>
<text x="390.8" y="305.1125" font-size="7.5" text-anchor="end" font-weight="normal" fill="#111" stroke="#111" stroke-width="0.18" >2.5</text>
<text x="390.8" y="318.2" font-size="7.5" text-anchor="end" font-weight="normal" fill="#111" stroke="#111" stroke-width="0.18" >0</text>
<text transform="translate(373.7,276.1) rotate(-90)" font-size="7.63" text-anchor="middle" fill="#111" stroke="#111" stroke-width="0.28">Fold change C/EBPα exp.</text>
<rect x="411.4" y="309.8" width="18.90" height="5.40" fill="#000"/>
<rect x="448.9" y="253" width="18.70" height="62.20" fill="#7f7f7f"/>
<path d="M458.5,239.6V266.5M456.0,239.6H461.0M456.0,266.5H461.0" stroke="#151515" stroke-width="1.0" fill="none"/>
<clipPath id="hc8"><rect x="485.7" y="294.6" width="19.30" height="20.60"/></clipPath>
<rect x="485.7" y="294.6" width="19.30" height="20.60" fill="#fff"/>
<g clip-path="url(#hc8)"><path d="M484.70,295.60L506.00,274.30M484.70,298.25L506.00,276.95M484.70,300.90L506.00,279.60M484.70,303.55L506.00,282.25M484.70,306.20L506.00,284.90M484.70,308.85L506.00,287.55M484.70,311.50L506.00,290.20M484.70,314.15L506.00,292.85M484.70,316.80L506.00,295.50M484.70,319.45L506.00,298.15M484.70,322.10L506.00,300.80M484.70,324.75L506.00,303.45M484.70,327.40L506.00,306.10M484.70,330.05L506.00,308.75M484.70,332.70L506.00,311.40M484.70,335.35L506.00,314.05M484.70,338.00L506.00,316.70" stroke="#3a3a3a" stroke-width="0.95" fill="none"/></g>
<path d="M495.3,288.7V301.2M492.8,288.7H497.8M492.8,301.2H497.8" stroke="#151515" stroke-width="1.0" fill="none"/>
<path d="M420.5,305.5V233.7H453.7V246.7" stroke="#111" stroke-width="1.15" fill="none"/>
<path d="M463.6,246.7V233.7H495.6V283.3" stroke="#111" stroke-width="1.15" fill="none"/>
<ellipse cx="446.2" cy="229" rx="1.5" ry="1.35" fill="#1a1a1a"/>
<ellipse cx="449.59999999999997" cy="229" rx="1.5" ry="1.35" fill="#1a1a1a"/>
<ellipse cx="492" cy="229" rx="1.5" ry="1.35" fill="#1a1a1a"/>
<text x="420.4" y="327.4" font-size="9" text-anchor="middle" font-weight="normal" fill="#111" stroke="#111" stroke-width="0.4" >CTL</text>
<text x="458.5" y="327.4" font-size="9" text-anchor="middle" font-weight="normal" fill="#111" stroke="#111" stroke-width="0.4" >LDN</text>
<text x="495.4" y="327.4" font-size="9" text-anchor="middle" font-weight="normal" fill="#111" stroke="#111" stroke-width="0.4" >LDN</text>
<text x="495.5" y="334.3" font-size="6.5" text-anchor="middle" font-weight="normal" fill="#111" stroke="#111" stroke-width="0.3" >+</text>
<text x="495.5" y="342.3" font-size="9" text-anchor="middle" font-weight="normal" fill="#111" stroke="#111" stroke-width="0.4" >DAPT</text>
</svg>
</body></html>
